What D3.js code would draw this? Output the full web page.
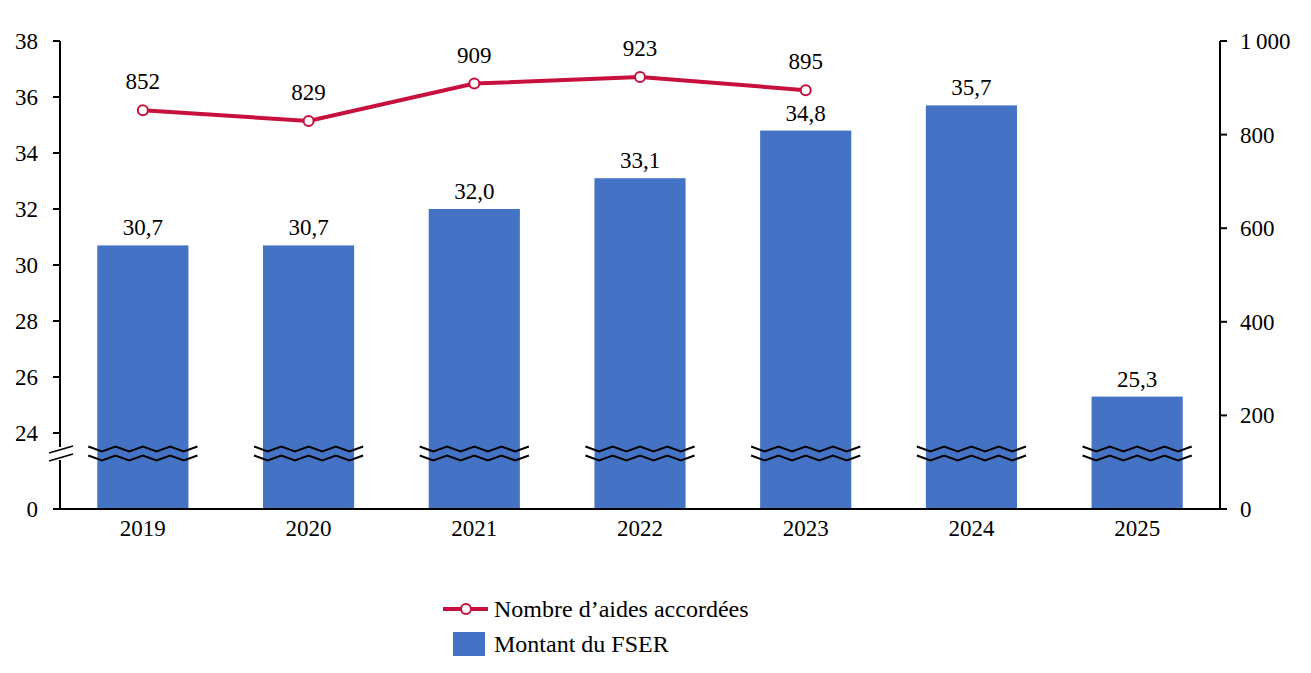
<!DOCTYPE html>
<html>
<head>
<meta charset="utf-8">
<script src="https://cdn.jsdelivr.net/npm/d3@7"></script>
<style>
  body { margin: 0; background: #fff; }
  text { font-family: "Liberation Serif", serif; fill: #000; }
</style>
</head>
<body>
<div id="chart"></div>
<script>
var years = ["2019", "2020", "2021", "2022", "2023", "2024", "2025"];
var montant = [30.7, 30.7, 32.0, 33.1, 34.8, 35.7, 25.3];
var aidesYears = ["2019", "2020", "2021", "2022", "2023"];
var aides = [852, 829, 909, 923, 895];
var leftTicks = [0, 24, 26, 28, 30, 32, 34, 36, 38];
var rightTicks = [0, 200, 400, 600, 800, 1000];

var W = 1311, H = 673;
var x0 = 60, x1 = 1220, yBase = 509, yTop = 41;
var fontSize = 23;

var svg = d3.select("#chart").append("svg")
    .attr("width", W)
    .attr("height", H);

var xScale = d3.scaleBand()
    .domain(years)
    .range([x0, x1])
    .paddingInner(0.45)
    .paddingOuter(0.225);

// broken left axis: 0..24 squeezed, 24..38 linear
var yLeft = d3.scaleLinear()
    .domain([0, 24, 38])
    .range([yBase, 433, yTop]);

var yRight = d3.scaleLinear()
    .domain([0, 1000])
    .range([yBase, yTop]);

var fr = function(v) { return v.toFixed(1).replace(".", ","); };

// bars
svg.selectAll(".bar")
    .data(montant)
    .enter().append("rect")
    .attr("class", "bar")
    .attr("x", function(d, i) { return xScale(years[i]) })
    .attr("y", function(d) { return yLeft(d) })
    .attr("width", xScale.bandwidth())
    .attr("height", function(d) { return yBase - yLeft(d) })
    .attr("fill", "#4472C4");

// bar labels
svg.selectAll(".blab")
    .data(montant)
    .enter().append("text")
    .attr("x", function(d, i) { return xScale(years[i]) + xScale.bandwidth() / 2 })
    .attr("y", function(d) { return yLeft(d) - 10 })
    .attr("text-anchor", "middle")
    .style("font-size", fontSize + "px")
    .text(function(d) { return fr(d) });

// wavy break marks on bars
var breakY = [449, 458];
var wave = d3.line();
years.forEach(function(yr) {
    var xs = xScale(yr) - 9, xe = xScale(yr) + xScale.bandwidth() + 9;
    var n = 8, step = (xe - xs) / n;
    breakY.forEach(function(by) {
        var pts = [];
        for (var k = 0; k <= n; k++) {
            pts.push([xs + k * step, by + (k % 2 === 0 ? -2.5 : 2.5)]);
        }
        svg.append("path")
            .attr("d", wave(pts))
            .attr("fill", "none")
            .attr("stroke", "#000")
            .attr("stroke-width", 2);
    });
});

// x axis line
svg.append("line")
    .attr("x1", x0 - 7).attr("x2", x1)
    .attr("y1", yBase).attr("y2", yBase)
    .attr("stroke", "#000").attr("stroke-width", 2);

svg.selectAll(".xlab")
    .data(years)
    .enter().append("text")
    .attr("x", function(d) { return xScale(d) + xScale.bandwidth() / 2 })
    .attr("y", yBase + 27)
    .attr("text-anchor", "middle")
    .style("font-size", fontSize + "px")
    .text(function(d) { return d });

// left axis with gap at the break
svg.append("line")
    .attr("x1", x0).attr("x2", x0)
    .attr("y1", yTop).attr("y2", 447)
    .attr("stroke", "#000").attr("stroke-width", 2);
svg.append("line")
    .attr("x1", x0).attr("x2", x0)
    .attr("y1", 460).attr("y2", yBase)
    .attr("stroke", "#000").attr("stroke-width", 2);
[453, 461].forEach(function(by) {
    svg.append("line")
        .attr("x1", 49).attr("y1", by)
        .attr("x2", 73).attr("y2", by - 7)
        .attr("stroke", "#000").attr("stroke-width", 1.8);
});

svg.selectAll(".ltick")
    .data(leftTicks)
    .enter().append("line")
    .attr("x1", x0 - 7).attr("x2", x0)
    .attr("y1", function(d) { return yLeft(d) })
    .attr("y2", function(d) { return yLeft(d) })
    .attr("stroke", "#000").attr("stroke-width", 2);

svg.selectAll(".llab")
    .data(leftTicks)
    .enter().append("text")
    .attr("x", 38)
    .attr("y", function(d) { return yLeft(d) })
    .attr("dy", "0.35em")
    .attr("text-anchor", "end")
    .style("font-size", fontSize + "px")
    .text(function(d) { return d });

// right axis
svg.append("line")
    .attr("x1", x1).attr("x2", x1)
    .attr("y1", yTop).attr("y2", yBase)
    .attr("stroke", "#000").attr("stroke-width", 2);

svg.selectAll(".rtick")
    .data(rightTicks)
    .enter().append("line")
    .attr("x1", x1).attr("x2", x1 + 7)
    .attr("y1", function(d) { return yRight(d) })
    .attr("y2", function(d) { return yRight(d) })
    .attr("stroke", "#000").attr("stroke-width", 2);

svg.selectAll(".rlab")
    .data(rightTicks)
    .enter().append("text")
    .attr("x", 1240)
    .attr("y", function(d) { return yRight(d) })
    .attr("dy", "0.35em")
    .style("font-size", fontSize + "px")
    .text(function(d) { return d3.format(",")(d).replace(",", "\u202f") });

// line series
var lineColor = "#C8103E";
var lineGen = d3.line()
    .x(function(d, i) { return xScale(aidesYears[i]) + xScale.bandwidth() / 2 })
    .y(function(d) { return yRight(d) });

svg.append("path")
    .datum(aides)
    .attr("d", lineGen)
    .attr("fill", "none")
    .attr("stroke", lineColor)
    .attr("stroke-width", 4);

svg.selectAll(".pt")
    .data(aides)
    .enter().append("circle")
    .attr("cx", function(d, i) { return xScale(aidesYears[i]) + xScale.bandwidth() / 2 })
    .attr("cy", function(d) { return yRight(d) })
    .attr("r", 5)
    .attr("fill", "#fff")
    .attr("stroke", lineColor)
    .attr("stroke-width", 2);

svg.selectAll(".plab")
    .data(aides)
    .enter().append("text")
    .attr("x", function(d, i) { return xScale(aidesYears[i]) + xScale.bandwidth() / 2 })
    .attr("y", function(d) { return yRight(d) - 21 })
    .attr("text-anchor", "middle")
    .style("font-size", fontSize + "px")
    .text(function(d) { return d });

// legend
var lg = svg.append("g");
lg.append("line")
    .attr("x1", 443).attr("x2", 488)
    .attr("y1", 609).attr("y2", 609)
    .attr("stroke", lineColor).attr("stroke-width", 4);
lg.append("circle")
    .attr("cx", 466).attr("cy", 609).attr("r", 5)
    .attr("fill", "#fff").attr("stroke", lineColor).attr("stroke-width", 2);
lg.append("text")
    .attr("x", 494).attr("y", 609).attr("dy", "0.35em")
    .style("font-size", "24px")
    .text("Nombre d\u2019aides accordées");
lg.append("rect")
    .attr("x", 453).attr("y", 632)
    .attr("width", 32).attr("height", 24)
    .attr("fill", "#4472C4");
lg.append("text")
    .attr("x", 494).attr("y", 644).attr("dy", "0.35em")
    .style("font-size", "24px")
    .text("Montant du FSER");
</script>
</body>
</html>
